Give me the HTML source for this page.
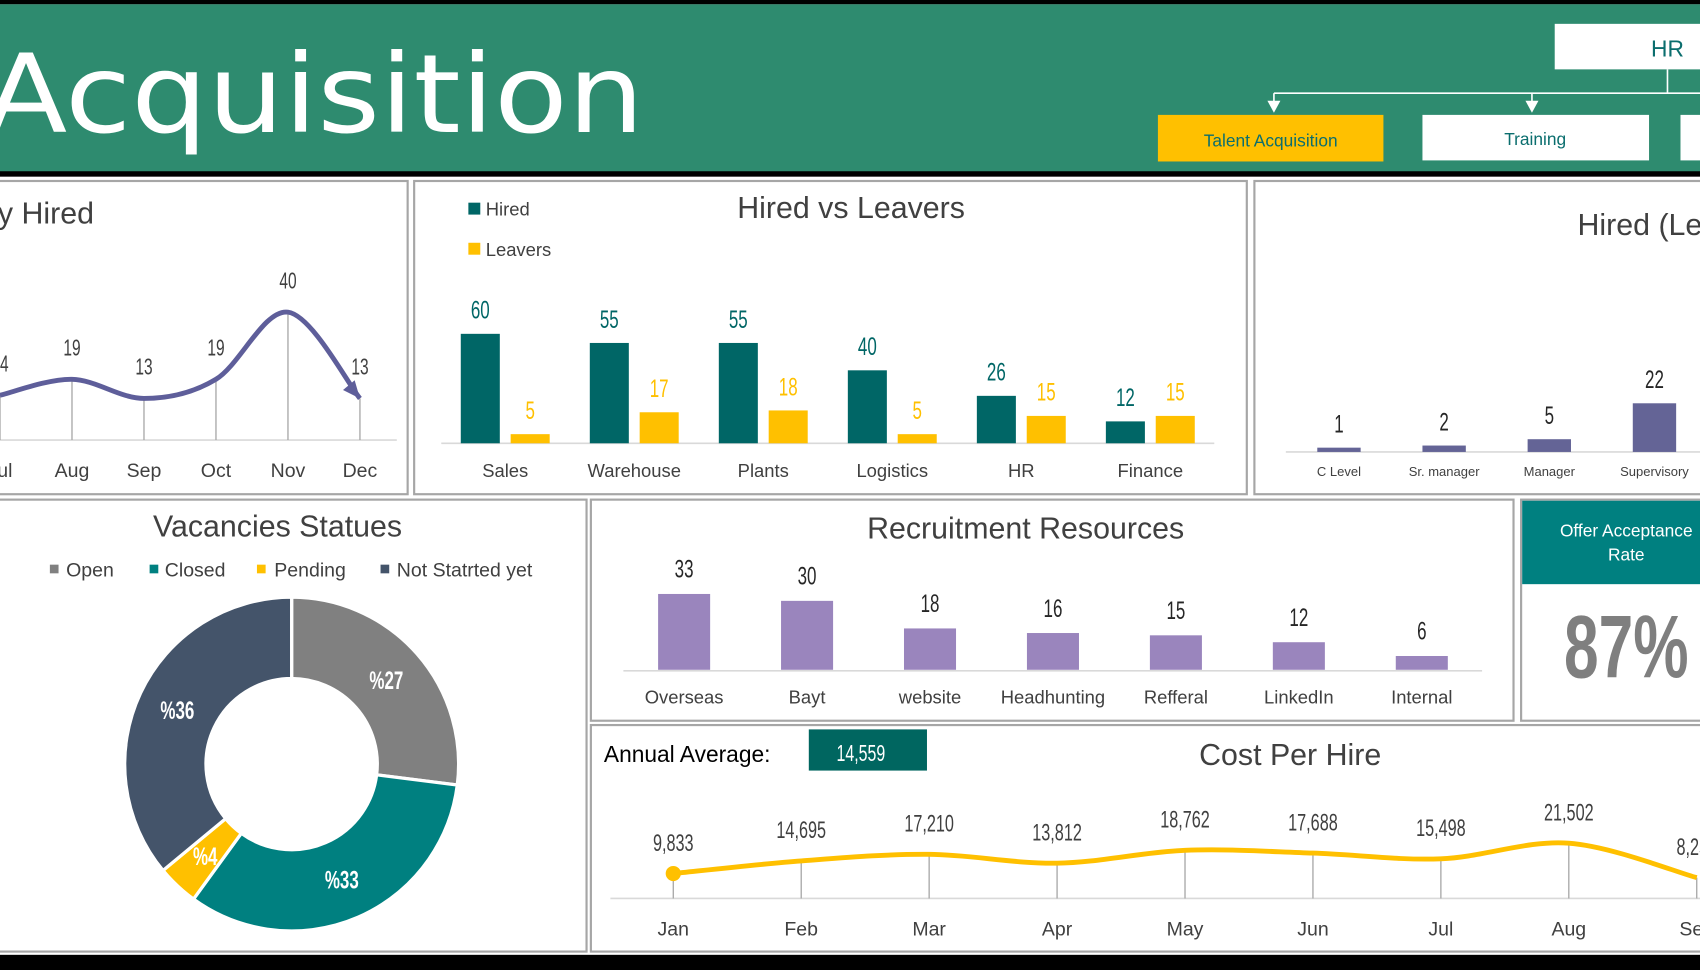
<!DOCTYPE html>
<html><head><meta charset="utf-8">
<style>
html,body{margin:0;padding:0;background:#fff;overflow:hidden}
svg{display:block}
text{font-family:"Liberation Sans",sans-serif}
.num{font-family:"Liberation Sans Narrow","Liberation Sans",sans-serif}
</style></head>
<body>
<svg id="dash" width="1700" height="970" viewBox="0 0 1568 895" preserveAspectRatio="none" xmlns="http://www.w3.org/2000/svg">
<rect x="0" y="0" width="1568" height="895" fill="#fff"/>
<rect x="0" y="0" width="1568" height="4" fill="#000"/>
<rect x="0" y="4" width="1568" height="155" fill="#2E8B6F"/>
<rect x="0" y="158" width="1568" height="5" fill="#000"/>
<text x="-14" y="122" font-size="100" fill="#fff" textLength="608" lengthAdjust="spacingAndGlyphs" style="font-family:'DejaVu Sans',sans-serif">Acquisition</text>
<rect x="1434" y="22" width="140" height="42" fill="#fff"/>
<text x="1538" y="52" font-size="21" fill="#0B6E6E" text-anchor="middle">HR</text>
<g stroke="#fff" stroke-width="1.5" fill="none">
<line x1="1538" y1="64" x2="1538" y2="86"/><line x1="1175" y1="86" x2="1568" y2="86"/>
<line x1="1175" y1="86" x2="1175" y2="96"/><line x1="1413" y1="86" x2="1413" y2="96"/>
</g>
<polygon points="1169,93 1181,93 1175,104" fill="#fff"/><polygon points="1407,93 1419,93 1413,104" fill="#fff"/>
<rect x="1068" y="106" width="208" height="43" fill="#FFC000"/>
<text x="1172" y="135" font-size="16" fill="#0B6E6E" text-anchor="middle">Talent Acquisition</text>
<rect x="1312" y="106" width="209" height="42" fill="#fff"/>
<text x="1416" y="134" font-size="16" fill="#0B6E6E" text-anchor="middle">Training</text>
<rect x="1550" y="106" width="30" height="42" fill="#fff"/>
<g fill="#fff" stroke="#A6A6A6" stroke-width="2">
<rect x="-5" y="167" width="381" height="289"/>
<rect x="382" y="167" width="768" height="289"/>
<rect x="1157" y="167" width="420" height="289"/>
<rect x="-5" y="461" width="546" height="417"/>
<rect x="545" y="461" width="851" height="204"/>
<rect x="1403" y="461" width="175" height="204"/>
<rect x="545" y="669" width="1033" height="209"/>
</g>
<rect x="0" y="881" width="1568" height="14" fill="#000"/>
<text x="-2" y="206" font-size="28" fill="#404040">y Hired</text>
<text x="785" y="201" font-size="28" fill="#404040" text-anchor="middle">Hired vs Leavers</text>
<text x="1455" y="217" font-size="28" fill="#404040">Hired (Le</text>
<text x="256" y="495" font-size="28" fill="#404040" text-anchor="middle">Vacancies Statues</text>
<text x="946" y="497" font-size="28" fill="#404040" text-anchor="middle">Recruitment Resources</text>
<text x="1190" y="706" font-size="28" fill="#404040" text-anchor="middle">Cost Per Hire</text>
<rect x="432" y="187" width="11" height="11" fill="#006666"/>
<text x="448" y="199" font-size="17" fill="#404040">Hired</text>
<rect x="432" y="224" width="11" height="11" fill="#FFC000"/>
<text x="448" y="236" font-size="17" fill="#404040">Leavers</text>
<rect x="1404" y="462" width="174" height="77" fill="#008080"/>
<text x="1500" y="495" font-size="16" fill="#fff" text-anchor="middle">Offer Acceptance</text>
<text x="1500" y="517" font-size="16" fill="#fff" text-anchor="middle">Rate</text>
<text x="1500" y="625" font-size="82" font-weight="bold" fill="#7F7F7F" text-anchor="middle" transform="translate(1500 0) scale(0.7 1) translate(-1500 0)">87%</text>
<text x="557" y="703" font-size="21" fill="#000">Annual Average:</text>
<rect x="746" y="673" width="109" height="38" fill="#006660"/>
<text x="794" y="702" font-size="21" fill="#fff" text-anchor="middle" transform="translate(794 0) scale(0.7 1) translate(-794 0)">14,559</text>
<g font-size="18" fill="#404040">
<rect x="46" y="521" width="8" height="8" fill="#808080"/><text x="61" y="532">Open</text>
<rect x="138" y="521" width="8" height="8" fill="#008080"/><text x="152" y="532">Closed</text>
<rect x="237" y="521" width="8" height="8" fill="#FFC000"/><text x="253" y="532">Pending</text>
<rect x="351" y="521" width="8" height="8" fill="#44546A"/><text x="366" y="532">Not Statrted yet</text>
</g>
<g id="marks"></g>
</svg>
<script>
// Monthly hired
const mhMonths = ["Jul","Aug","Sep","Oct","Nov","Dec"];
const mhValues = [14,19,13,19,40,13];
// Hired vs leavers
const hlCats = ["Sales","Warehouse","Plants","Logistics","HR","Finance"];
const hlHired = [60,55,55,40,26,12];
const hlLeavers = [5,17,18,5,15,15];
// Hired by level
const lvCats = ["C Level","Sr. manager","Manager","Supervisory"];
const lvValues = [1,2,5,22];
// Vacancies
const vacCats = ["Open","Closed","Pending","Not Statrted yet"];
const vacValues = [27,33,4,36];
// Recruitment resources
const rrCats = ["Overseas","Bayt","website","Headhunting","Refferal","LinkedIn","Internal"];
const rrValues = [33,30,18,16,15,12,6];
// Cost per hire
const cpMonths = ["Jan","Feb","Mar","Apr","May","Jun","Jul","Aug","Sep"];
const cpValues = [9833,14695,17210,13812,18762,17688,15498,21502,8250];
const cpLabels = ["9,833","14,695","17,210","13,812","18,762","17,688","15,498","21,502","8,250"];

const NS="http://www.w3.org/2000/svg";
const G=document.getElementById('marks');
function mk(tag,attrs,parent){const e=document.createElementNS(NS,tag);for(const k in attrs)e.setAttribute(k,attrs[k]);(parent||G).appendChild(e);return e;}
function txt(x,y,s,size,fill,cls){const t=mk('text',{x:x,y:y,'font-size':size,fill:fill,'text-anchor':'middle'});if(cls){t.setAttribute('class',cls);t.setAttribute('transform',`translate(${x} 0) scale(0.68 1) translate(${-x} 0)`);}t.textContent=s;return t;}
function smooth(pts){let d="M"+pts[0][0]+","+pts[0][1];for(let i=0;i<pts.length-1;i++){const p0=pts[i-1]||pts[i],p1=pts[i],p2=pts[i+1],p3=pts[i+2]||p2;const c1=[p1[0]+(p2[0]-p0[0])/6,p1[1]+(p2[1]-p0[1])/6],c2=[p2[0]-(p3[0]-p1[0])/6,p2[1]-(p3[1]-p1[1])/6];d+=" C"+c1+" "+c2+" "+p2;}return d;}

(function(){
 const x=i=>0+i*66.4, y=v=>406-v*2.95;
 mk('line',{x1:0,y1:406,x2:366,y2:406,stroke:'#D9D9D9','stroke-width':1.5});
 const pts=mhValues.map((v,i)=>[x(i),y(v)]);
 mhValues.forEach((v,i)=>{
  const l=mk('line',{x1:x(i),y1:y(v),x2:x(i),y2:406,stroke:'#A6A6A6','stroke-width':1.2});
  
  
  const t=txt(x(i),y(v)-22,String(v),21,'#404040','num');
  
  
  const m=txt(x(i),440,mhMonths[i],18,'#404040');
  
  
 });
 const p=mk('path',{d:smooth(pts),fill:'none',stroke:'#5E5E9A','stroke-width':4.5});
 
 
 const n=pts.length-1,a=pts[n],b=pts[n-1];const ang=Math.atan2(a[1]-b[1],a[0]-b[0]);
 const ah=[[a[0],a[1]],[a[0]-16*Math.cos(ang)+7*Math.sin(ang),a[1]-16*Math.sin(ang)-7*Math.cos(ang)],[a[0]-16*Math.cos(ang)-7*Math.sin(ang),a[1]-16*Math.sin(ang)+7*Math.cos(ang)]];
 const arr=mk('polygon',{points:ah.map(q=>q.join(',')).join(' '),fill:'#5E5E9A'});
 
 
})();

(function(){
 const cx=i=>466+i*119, y=v=>409-v*1.683;
 mk('line',{x1:407,y1:409,x2:1120,y2:409,stroke:'#D9D9D9','stroke-width':1.5});
 hlCats.forEach((c,i)=>{
  const h=mk('rect',{x:cx(i)-41,y:y(hlHired[i]),width:36,height:409-y(hlHired[i]),fill:'#006666'});
  
  
  const l=mk('rect',{x:cx(i)+5,y:y(hlLeavers[i]),width:36,height:409-y(hlLeavers[i]),fill:'#FFC000'});
  
  
  const t1=txt(cx(i)-23,y(hlHired[i])-14,String(hlHired[i]),23,'#006666','num');
  
  
  const t2=txt(cx(i)+23,y(hlLeavers[i])-14,String(hlLeavers[i]),23,'#FFC000','num');
  
  
  const lab=txt(cx(i),440,c,17,'#404040');
  
  
 });
})();

(function(){
 const cx=i=>1235+i*97, y=v=>416-v*1.95;
 mk('line',{x1:1186,y1:417,x2:1568,y2:417,stroke:'#D9D9D9','stroke-width':1.5});
 lvCats.forEach((c,i)=>{
  const r=mk('rect',{x:cx(i)-20,y:y(lvValues[i])-1,width:40,height:417-y(lvValues[i])+1,fill:'#646496'});
  
  
  const t=txt(cx(i),y(lvValues[i])-15,String(lvValues[i]),23,'#262626','num');
  
  
  const lab=txt(cx(i),439,c,12,'#404040');
  
  
 });
})();

(function(){
 const cx=269,cy=705,R=154,r=79;const cols=['#808080','#008080','#FFC000','#44546A'];
 const tot=vacValues.reduce((a,b)=>a+b,0);let a0=-Math.PI/2;
 vacValues.forEach((v,i)=>{
  const a1=a0+v/tot*2*Math.PI;const lg=(a1-a0)>Math.PI?1:0;
  const P=(rad,a)=>[cx+rad*Math.cos(a),cy+rad*Math.sin(a)];
  const p1=P(R,a0),p2=P(R,a1),p3=P(r,a1),p4=P(r,a0);
  const s=mk('path',{d:`M${p1} A${R},${R} 0 ${lg} 1 ${p2} L${p3} A${r},${r} 0 ${lg} 0 ${p4}Z`,fill:cols[i],stroke:'#fff','stroke-width':3});
  
  
  const am=(a0+a1)/2,lp=P((R+r)/2,am);
  const t=txt(lp[0],lp[1]+8,'%'+v,23,'#fff','num');t.setAttribute('font-weight','bold');
  
  
  a0=a1;
 });
})();

(function(){
 const cx=i=>631+i*113.4, y=v=>618-v*2.12;
 mk('line',{x1:575,y1:619,x2:1367,y2:619,stroke:'#D9D9D9','stroke-width':1.5});
 rrCats.forEach((c,i)=>{
  const b=mk('rect',{x:cx(i)-24,y:y(rrValues[i]),width:48,height:618-y(rrValues[i]),fill:'#9A85BD'});
  
  
  const t=txt(cx(i),y(rrValues[i])-15,String(rrValues[i]),23,'#262626','num');
  
  
  const lab=txt(cx(i),649,c,17,'#404040');
  
  
 });
})();

(function(){
 const x=i=>621+i*118, y=v=>829.6-v*0.0024;
 mk('line',{x1:563,y1:829,x2:1568,y2:829,stroke:'#D9D9D9','stroke-width':1.5});
 const pts=cpValues.map((v,i)=>[x(i),y(v)]);
 cpValues.forEach((v,i)=>{
  const l=mk('line',{x1:x(i),y1:y(v),x2:x(i),y2:829,stroke:'#A6A6A6','stroke-width':1.2});
  
  
  const t=txt(x(i),y(v)-21,cpLabels[i],22,'#404040','num');
  
  
  const m=txt(x(i),863,cpMonths[i],18,'#404040');
  
  
 });
 const p=mk('path',{d:smooth(pts),fill:'none',stroke:'#FFC000','stroke-width':4.5});
 
 
 const d=mk('circle',{cx:pts[0][0],cy:pts[0][1],r:7,fill:'#FFC000'});
 
 
})();
</script>
</body></html>
